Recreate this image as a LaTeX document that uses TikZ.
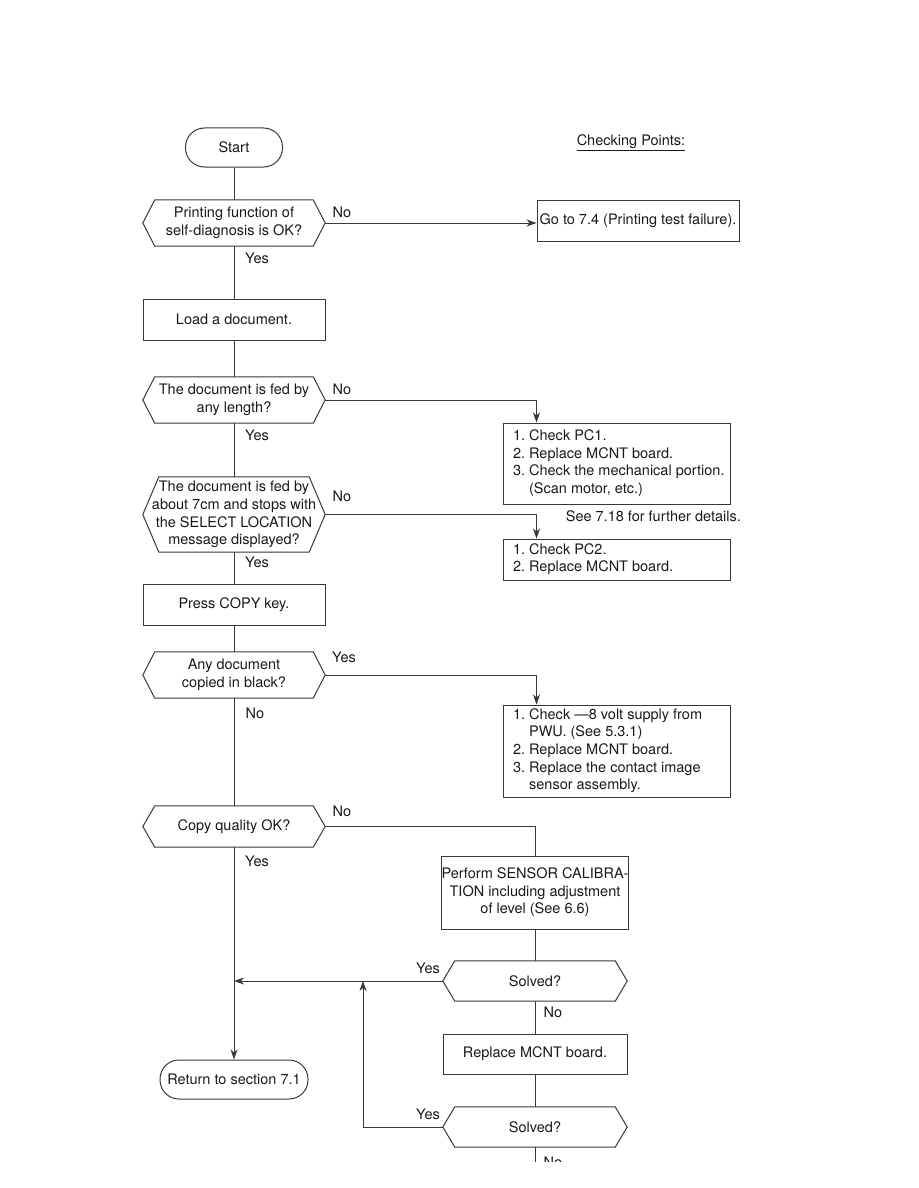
\documentclass[tikz,border=0pt]{standalone}
\usepackage{fontspec}
\setmainfont{TeX Gyre Heros}
\usetikzlibrary{arrows.meta}
\newcommand\fs{\fontsize{14.5}{17.6}\selectfont\frenchspacing}
\newcommand\hexa[2][12pt]{\draw[ln] (#2.west) -- ([xshift=#1]#2.north west) -- ([xshift=-#1]#2.north east) -- (#2.east) -- ([xshift=-#1]#2.south east) -- ([xshift=#1]#2.south west) -- cycle;}
\newcommand\lst[1]{\makebox[207pt][l]{\begin{tabular}{@{}l@{}}#1\end{tabular}}}
\begin{document}
\begin{tikzpicture}[x=1pt,y=-1pt,
  ln/.style={draw=black!78, line width=1pt},
  arr/.style={ln, -{Stealth[length=10pt,width=7pt,inset=3pt]}},
  txt/.style={font=\fs, text=black!90},
  box/.style={txt, ln, inner sep=0pt, align=center},
  stad/.style={box, rounded corners=19pt, minimum height=39pt},
  dec/.style={txt, inner sep=0pt, align=center, minimum width=182pt},
  chk/.style={box, inner xsep=10pt, minimum width=227pt},
  lab/.style={txt, inner sep=0pt}
]
\useasboundingbox (0,0) rectangle (918,1188);

% nodes
\node[stad, minimum width=97pt] (start) at (234,147.5) {Start};
\node[dec, minimum height=46pt] (d1) at (234,223) {Printing function of\\self-diagnosis is OK?};
\node[box, minimum width=202pt, minimum height=41pt] (goto) at (638,220.5) {Go to 7.4 (Printing test failure).};
\node[lab] (chkpts) at (631,143) {\underline{Checking Points:}};
\node[box, minimum width=182pt, minimum height=41pt] (load) at (234,319.5) {Load a document.};
\node[dec, minimum height=46pt] (d2) at (234,400) {The document is fed by\\any length?};
\node[chk, minimum height=81pt] (pc1) at (616.5,463.5) {\lst{1. Check PC1.\\2. Replace MCNT board.\\3. Check the mechanical portion.\\\phantom{3. }(Scan motor, etc.)}};
\node[lab, anchor=east] (see) at (741,516) {See 7.18 for further details.};
\node[dec, minimum height=75pt] (d3) at (234,514.5) {The document is fed by\\about 7cm and stops with\\the SELECT LOCATION\\message displayed?};
\node[chk, minimum height=41pt] (pc2) at (616.5,559.5) {\lst{1. Check PC2.\\2. Replace MCNT board.}};
\node[box, minimum width=182pt, minimum height=41pt] (copy) at (234,604.5) {Press COPY key.};
\node[dec, minimum height=46pt] (d4) at (234,675) {Any document\\copied in black?};
\node[chk, minimum height=92pt] (blk) at (616.5,751) {\lst{1. Check —8 volt supply from\\\phantom{1. }PWU. (See 5.3.1)\\2. Replace MCNT board.\\3. Replace the contact image\\\phantom{3. }sensor assembly.}};
\node[dec, minimum height=41pt] (d5) at (234,826.5) {Copy quality OK?};
\node[box, minimum width=184pt, minimum height=73pt] (perf) at (535,892.5) {Perform SENSOR CALIBRA-\\TION including adjustment\\of level (See 6.6)};
\node[dec, minimum width=184pt, minimum height=40pt] (s1) at (535,981) {Solved?};
\node[box, minimum width=184pt, minimum height=40pt] (rep) at (535,1054) {Replace MCNT board.};
\node[dec, minimum width=184pt, minimum height=40pt] (s2) at (535,1127) {Solved?};
\node[stad, minimum width=148pt] (ret) at (234,1079.5) {Return to section 7.1};

\hexa{d1}
\hexa{d2}
\hexa[16pt]{d3}
\hexa{d4}
\hexa{d5}
\hexa{s1}
\hexa{s2}

\coordinate (m1) at (234,981);
\coordinate (m2) at (363,981);
\coordinate (bend) at (363,1127);
\coordinate (cut) at (535,1162);

% connectors
\draw[ln] (start) -- (d1);
\draw[arr] (d1.east) -- (d1.east -| goto.west);
\draw[ln] (d1) -- (load);
\draw[ln] (load) -- (d2);
\draw[arr] (d2.east) -| ([xshift=34pt]pc1.north west);
\draw[ln] (d2) -- (d3);
\draw[arr] (d3.east) -| ([xshift=34pt]pc2.north west);
\draw[ln] (d3) -- (copy);
\draw[ln] (copy) -- (d4);
\draw[arr] (d4.east) -| ([xshift=34pt]blk.north west);
\draw[ln] (d4) -- (d5);
\draw[ln] (d5.east) -| (perf.north);
\draw[arr] (d5) -- (ret);
\draw[ln] (perf) -- (s1);
\draw[arr] (s1.west) -- (m1);
\draw[ln] (s1) -- (rep);
\draw[ln] (rep) -- (s2);
\draw[arr] (s2.west) -- (bend) -- (m2);
\draw[ln] (s2.south) -- (cut);

% labels
\node[lab] at (342,212) {No};
\node[lab] at (257,258) {Yes};
\node[lab] at (342,389) {No};
\node[lab] at (257,435) {Yes};
\node[lab] at (342,496) {No};
\node[lab] at (257,562) {Yes};
\node[lab] at (344,657) {Yes};
\node[lab] at (255,713) {No};
\node[lab] at (342,811) {No};
\node[lab] at (257,861) {Yes};
\node[lab] at (428,968) {Yes};
\node[lab] at (553,1012) {No};
\node[lab] at (428,1114) {Yes};
\begin{scope}
\clip (400,1100) rectangle (700,1161);
\node[lab, anchor=north] at (553,1156.5) {No};
\end{scope}
\end{tikzpicture}
\end{document}
